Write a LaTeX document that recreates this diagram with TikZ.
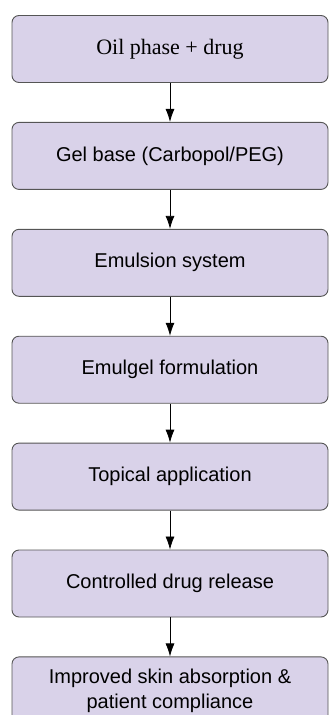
\documentclass[tikz,border=0pt]{standalone}
\usepackage{fontspec}
\setmainfont{Liberation Serif}
\setsansfont{Liberation Sans}
\usetikzlibrary{positioning,arrows.meta}
\definecolor{lavande}{HTML}{D9D2E9}
\definecolor{bord}{HTML}{555555}

\begin{document}
\begin{tikzpicture}[x=1pt,y=1pt,node distance=39pt]
    % Styles
    \tikzset{fleche/.style={-{Latex[length=13pt,width=9pt]}, line width=0.8pt}}%
    \tikzset{etape/.style={draw=bord, line width=0.9pt, fill=lavande, rounded corners=7pt,
    minimum width=316pt, minimum height=67pt, align=center, inner sep=2pt,
    font=\sffamily\fontsize{20}{25}\selectfont}}%

    % Cadre
    \useasboundingbox (0,0) rectangle (329,-715);%

    % Etapes
    \node[etape, font=\rmfamily\fontsize{22}{25}\selectfont] (huile) at (170,-49) {Oil phase + drug};%
    \node[etape, below=of huile] (gel) {Gel base (Carbopol/PEG)};%
    \node[etape, below=of gel] (emulsion) {Emulsion system};%
    \node[etape, below=of emulsion] (emulgel) {Emulgel formulation};%
    \node[etape, below=of emulgel] (topique) {Topical application};%
    \node[etape, below=of topique] (liberation) {Controlled drug release};%
    \node[etape, below=of liberation] (absorption) {Improved skin absorption \&\\ patient compliance};%

    % Fleches
    \foreach \a/\b in {huile/gel, gel/emulsion, emulsion/emulgel, emulgel/topique,
    topique/liberation, liberation/absorption}%
        \draw[fleche] (\a) -- (\b);%
\end{tikzpicture}
\end{document}
